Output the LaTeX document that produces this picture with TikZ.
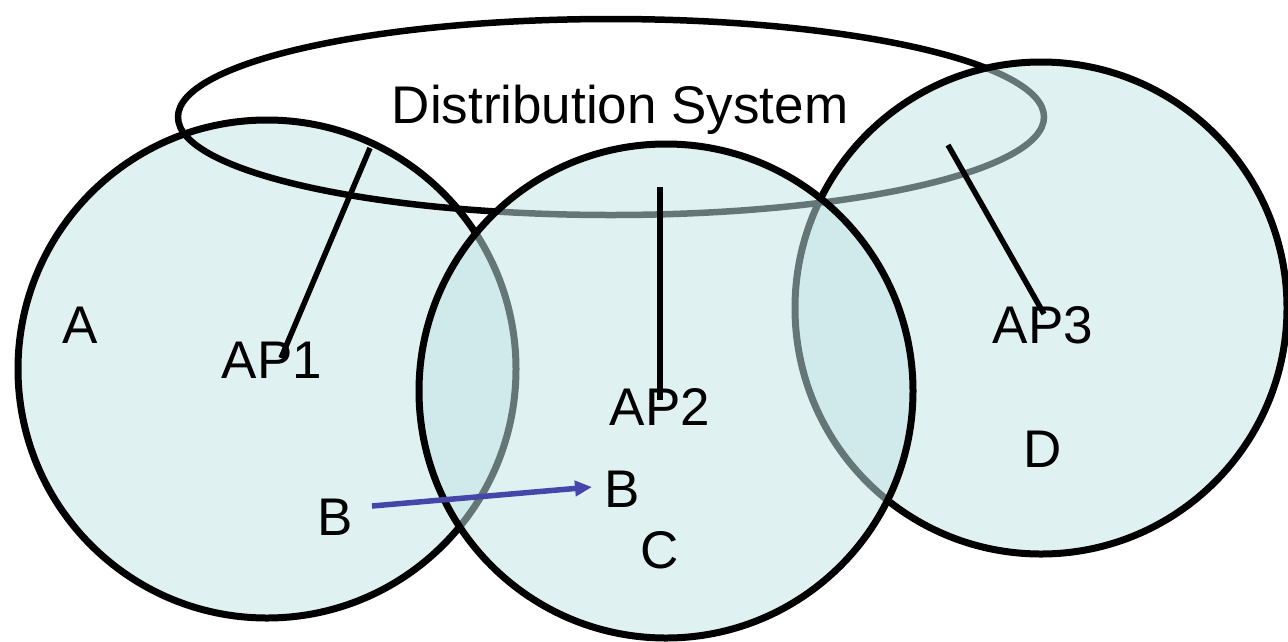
\documentclass[tikz,border=0pt]{standalone}
\usepackage{fontspec}
\setmainfont{Liberation Sans}
\usetikzlibrary{arrows.meta}
\definecolor{cellfill}{RGB}{194,228,229}
\definecolor{arrowblue}{RGB}{70,70,170}
\tikzset{
  cell/.style={draw=black, line width=7pt, fill=cellfill, fill opacity=0.52},
  ds/.style={draw=black, line width=6.5pt},
  link/.style={draw=black, line width=5.5pt},
  lbl/.style={anchor=base, inner sep=0pt, font=\fontsize{53}{60}\selectfont},
  move/.style={draw=arrowblue, line width=5.5pt, -{Triangle[length=17pt,width=15pt]}}
}
\begin{document}
\begin{tikzpicture}[x=1pt,y=-1pt]
\useasboundingbox (0,0) rectangle (1288,641);
% cells (circles), drawn in layering order
\draw[cell] (267,369) circle[radius=249];
\draw[ds] (611,117) ellipse[x radius=433, y radius=98];
\draw[cell] (1041,308) circle[radius=246];
\draw[cell] (666,391) circle[radius=247];
% labels
\node[lbl] (ds) at (620,123) {Distribution System};
\node[lbl] (a) at (80,343) {A};
\node[lbl] (ap1) at (272,378) {AP1};
\node[lbl] (ap2) at (660,425) {AP2};
\node[lbl] (ap3) at (1043,343) {AP3};
\node[lbl] (d) at (1043,467) {D};
\node[lbl] (b1) at (335,535) {B};
\node[lbl] (b2) at (622,507) {B};
\node[lbl] (c) at (660,568) {C};
% connections to distribution system
\coordinate (ds1) at (370,148);
\coordinate (ds2) at (660,187);
\coordinate (ds3) at (948,145);
\coordinate (ap1end) at (281,358);
\coordinate (ap2end) at (660,400);
\coordinate (ap3end) at (1044,314);
\draw[link] (ds1) -- (ap1end);
\draw[link] (ds2) -- (ap2end);
\draw[link] (ds3) -- (ap3end);
% roaming arrow
\coordinate (bstart) at (372,506);
\coordinate (bend) at (592,487);
\draw[move] (bstart) -- (bend);
\end{tikzpicture}
\end{document}
